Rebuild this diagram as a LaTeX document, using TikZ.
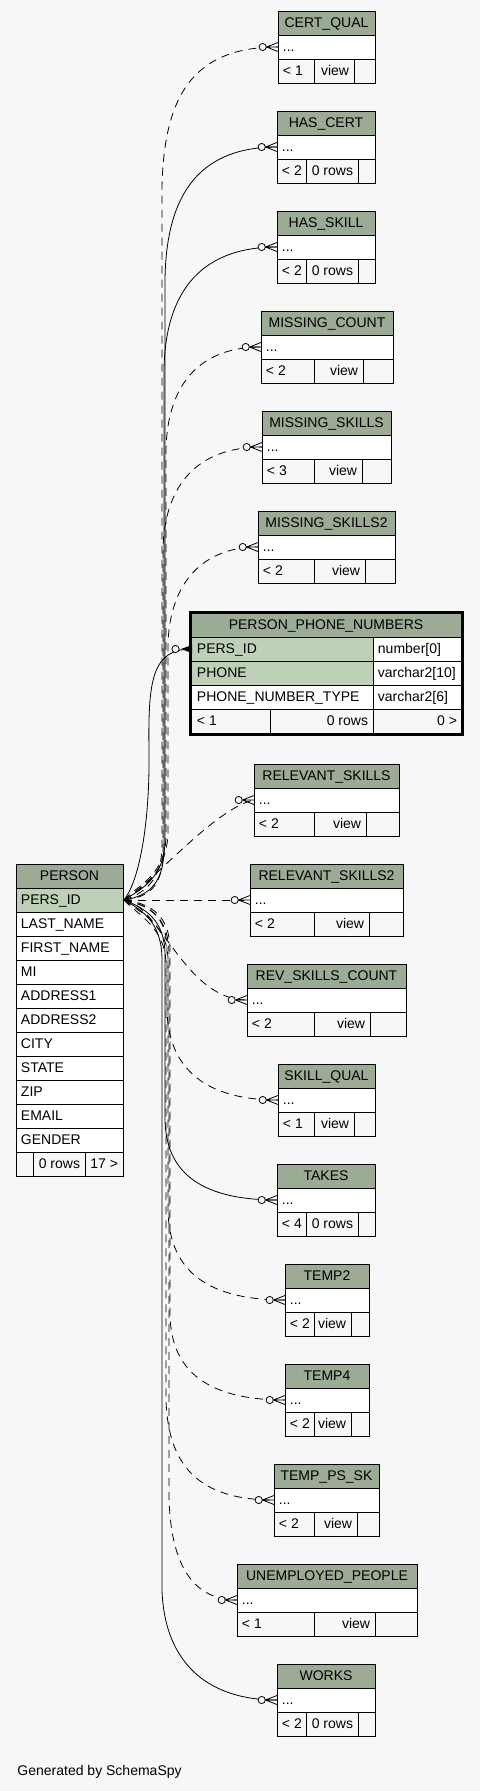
\documentclass[tikz,border=0pt]{standalone}
\usepackage{fontspec}
\setmainfont{Liberation Sans}
\definecolor{headfill}{HTML}{9BAB96}
\definecolor{pkfill}{HTML}{BED1B8}
\definecolor{bgcol}{HTML}{F7F7F7}

\tikzset{
  cell/.style={inner xsep=4.5pt, inner ysep=0pt, text height=11pt, text depth=2.5pt,
    font=\fontsize{14}{16}\selectfont},
  fk/.style={line width=0.8pt},
  vfk/.style={line width=0.8pt, dash pattern=on 8pt off 6pt},
  crowodot/.pic={
    \draw[solid,line width=0.8pt] (-11.5,0) -- (0,-4.5) (-11.5,0) -- (0,0) (-11.5,0) -- (0,4.5);
    \draw[solid,line width=0.8pt,fill=bgcol] (-15.3,0) circle[radius=3.6pt];
  },
  crowfill/.pic={
    \fill (-11,0) -- (0,-4) -- (0,4) -- cycle;
    \draw[solid,line width=0.8pt,fill=bgcol] (-16.5,0) circle[radius=3.6pt];
  }
}

% name, title, left, top, right, footer dividers, footer texts
\newcommand{\viewtable}[9]{%
  \fill[headfill] (#3,#4) rectangle (#5,#4+24);
  \fill[white] (#3,#4+24) rectangle (#5,#4+48);
  \draw (#3,#4) rectangle (#5,#4+72)
        (#3,#4+24) -- (#5,#4+24)
        (#3,#4+48) -- (#5,#4+48)
        (#6,#4+48) -- (#6,#4+72)
        (#7,#4+48) -- (#7,#4+72);
  \node[cell] (#1) at ({(#3+#5)/2},#4+12) {#2};
  \node[cell,anchor=west] (#1-fk) at (#3,#4+36) {...};
  \node[cell,anchor=west] (#1-min) at (#3,#4+60) {#8};
  \node[cell,anchor=east] (#1-rows) at (#7,#4+60) {#9};
}

\begin{document}
\begin{tikzpicture}[x=1pt,y=-1pt,line width=0.9pt]
  \fill[bgcol] (0,0) rectangle (480,1791);
  \useasboundingbox (0,0) rectangle (480,1791);

  % PERSON
  \fill[headfill] (16,864) rectangle (123,888);
  \fill[pkfill] (16,888) rectangle (123,912);
  \fill[white] (16,912) rectangle (123,1152);
  \foreach \y in {888,912,...,1152} \draw (16,\y) -- (123,\y);
  \draw (33,1152) -- (33,1176) (85,1152) -- (85,1176);
  \draw (16,864) rectangle (123,1176);
  \node[cell] (person) at (69.5,876) {PERSON};
  \node[cell,anchor=west,text width=98pt,align=left] (person-pk) at (16,900) {PERS\_ID};
  \foreach \c [count=\i] in {LAST\_NAME,FIRST\_NAME,MI,ADDRESS1,ADDRESS2,CITY,STATE,ZIP,EMAIL,GENDER}
    \node[cell,anchor=west] (person-col\i) at (16,900+24*\i) {\c};
  \node[cell,anchor=east] (person-rows) at (85,1164) {0 rows};
  \node[cell,anchor=east] (person-cols) at (123,1164) {17 >};

  % PERSON_PHONE_NUMBERS
  \fill[headfill] (190,613) rectangle (462,637);
  \fill[pkfill] (190,637) rectangle (373,685);
  \fill[white] (373,637) rectangle (462,709) (190,685) rectangle (373,709);
  \draw (190,637) -- (462,637) (190,661) -- (462,661) (190,685) -- (462,685)
        (190,709) -- (462,709) (373,637) -- (373,734) (270,709) -- (270,734);
  \draw[line width=3pt] (190,612.5) rectangle (462,734);
  \node[cell] (ppn) at (326,625) {PERSON\_PHONE\_NUMBERS};
  \node[cell,anchor=west] (ppn-pk) at (192,649) {PERS\_ID};
  \node[cell,anchor=west] (ppn-pk-type) at (373,649) {number[0]};
  \node[cell,anchor=west] (ppn-phone) at (192,673) {PHONE};
  \node[cell,anchor=west] (ppn-phone-type) at (373,673) {varchar2[10]};
  \node[cell,anchor=west] (ppn-kind) at (192,697) {PHONE\_NUMBER\_TYPE};
  \node[cell,anchor=west] (ppn-kind-type) at (373,697) {varchar2[6]};
  \node[cell,anchor=west] (ppn-min) at (192,721) {< 1};
  \node[cell,anchor=east] (ppn-rows) at (373,721) {0 rows};
  \node[cell,anchor=east] (ppn-max) at (462,721) {0 >};

  % child tables and views
  \viewtable{certqual}{CERT\_QUAL}{278}{11}{375}{314}{354}{< 1}{view}
  \viewtable{hascert}{HAS\_CERT}{277}{111}{375}{306}{358}{< 2}{0 rows}
  \viewtable{hasskill}{HAS\_SKILL}{277}{211}{375}{306}{358}{< 2}{0 rows}
  \viewtable{misscount}{MISSING\_COUNT}{261}{311}{393}{314}{363}{< 2}{view}
  \viewtable{missskills}{MISSING\_SKILLS}{262}{411}{391}{314}{362}{< 3}{view}
  \viewtable{missskills2}{MISSING\_SKILLS2}{258}{511}{395}{314}{365}{< 2}{view}
  \viewtable{relskills}{RELEVANT\_SKILLS}{254}{764}{399}{314}{366}{< 2}{view}
  \viewtable{relskills2}{RELEVANT\_SKILLS2}{250}{864}{403}{314}{369}{< 2}{view}
  \viewtable{revcount}{REV\_SKILLS\_COUNT}{247}{964}{406}{314}{370}{< 2}{view}
  \viewtable{skillqual}{SKILL\_QUAL}{278}{1064}{375}{314}{354}{< 1}{view}
  \viewtable{takes}{TAKES}{277}{1164}{375}{306}{358}{< 4}{0 rows}
  \viewtable{temp2}{TEMP2}{285}{1264}{369}{314}{351}{< 2}{view}
  \viewtable{temp4}{TEMP4}{285}{1364}{369}{314}{351}{< 2}{view}
  \viewtable{temppssk}{TEMP\_PS\_SK}{274}{1464}{379}{314}{357}{< 2}{view}
  \viewtable{unemployed}{UNEMPLOYED\_PEOPLE}{237}{1564}{417}{314}{375}{< 1}{view}
  \viewtable{works}{WORKS}{277}{1664}{375}{306}{358}{< 2}{0 rows}

  % connectors going up
  \draw[vfk] (person-pk.east) .. controls (145,893) and (162,880) .. (162,845) -- (162,187)
    .. controls (164,97) and (192,47) .. (certqual-fk.west);
  \draw[fk] (person-pk.east) .. controls (140,890) and (165,878) .. (165,840) -- (165,280)
    .. controls (166,200) and (195,147) .. (hascert-fk.west);
  \draw[fk] (person-pk.east) .. controls (150,896) and (164,882) .. (164,848) -- (164,370)
    .. controls (165,300) and (194,247) .. (hasskill-fk.west);
  \draw[vfk] (person-pk.east) .. controls (138,885) and (166,875) .. (166,835) -- (166,450)
    .. controls (167,390) and (195,347) .. (misscount-fk.west);
  \draw[vfk] (person-pk.east) .. controls (152,897) and (163,884) .. (163,850) -- (163,550)
    .. controls (164,490) and (193,447) .. (missskills-fk.west);
  \draw[vfk] (person-pk.east) .. controls (143,888) and (168,872) .. (168,830) -- (168,645)
    .. controls (169,590) and (197,547) .. (missskills2-fk.west);
  \draw[fk] (person-pk.east) .. controls (140,880) and (150,820) .. (149,750)
    .. controls (148,680) and (152,649) .. (ppn-pk.west);
  \draw[vfk] (person-pk.east) .. controls (150,885) and (215,808) .. (relskills-fk.west);

  % straight across
  \draw[vfk] (person-pk.east) -- (relskills2-fk.west);

  % connectors going down
  \draw[vfk] (person-pk.east) .. controls (160,905) and (185,1000) .. (revcount-fk.west);
  \draw[vfk] (person-pk.east) .. controls (148,905) and (167,915) .. (167,950) -- (167,1010)
    .. controls (168,1062) and (198,1100) .. (skillqual-fk.west);
  \draw[fk] (person-pk.east) .. controls (145,908) and (165,920) .. (165,955) -- (165,1120)
    .. controls (166,1168) and (195,1200) .. (takes-fk.west);
  \draw[vfk] (person-pk.east) .. controls (140,912) and (168,925) .. (168,960) -- (168,1210)
    .. controls (169,1265) and (200,1300) .. (temp2-fk.west);
  \draw[vfk] (person-pk.east) .. controls (150,903) and (170,915) .. (170,950) -- (170,1315)
    .. controls (171,1365) and (200,1400) .. (temp4-fk.west);
  \draw[vfk] (person-pk.east) .. controls (138,915) and (166,928) .. (166,965) -- (166,1400)
    .. controls (168,1465) and (198,1500) .. (temppssk-fk.west);
  \draw[vfk] (person-pk.east) .. controls (152,906) and (169,918) .. (169,955) -- (169,1495)
    .. controls (170,1560) and (190,1600) .. (unemployed-fk.west);
  \draw[fk] (person-pk.east) .. controls (142,910) and (162,922) .. (162,960) -- (162,1590)
    .. controls (164,1655) and (200,1700) .. (works-fk.west);

  % crow's feet
  \foreach \t in {certqual,hascert,hasskill,misscount,missskills,missskills2,relskills,relskills2,
                  revcount,skillqual,takes,temp2,temp4,temppssk,unemployed,works}
    \pic at (\t-fk.west) {crowodot};
  \pic at (ppn-pk.west) {crowfill};

  \node[cell,anchor=west,inner xsep=0pt] (credit) at (17,1771) {Generated by SchemaSpy};
\end{tikzpicture}
\end{document}
